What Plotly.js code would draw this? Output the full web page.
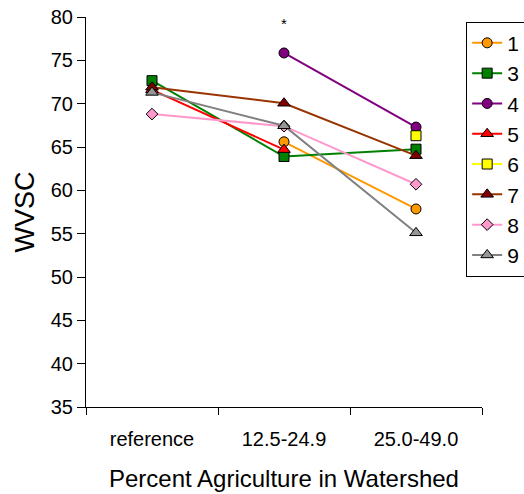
<!DOCTYPE html>
<html>
<head>
<meta charset="utf-8">
<script src="https://cdn.plot.ly/plotly-3.0.1.min.js"></script>
<style>html,body{margin:0;padding:0;background:#fff;}#chart{width:524px;height:494px;}</style>
</head>
<body>
<div id="chart"></div>
<script>
const categories = ['reference', '12.5-24.9', '25.0-49.0'];
const seriesNames = ['1', '3', '4', '5', '6', '7', '8', '9'];
const s1 = [null, 65.6, 57.85];
const s3 = [72.65, 63.9, 64.75];
const s4 = [null, 75.85, 67.3];
const s5 = [71.6, 64.7, null];
const s6 = [null, null, 66.3];
const s7 = [71.9, 70.05, 64.0];
const s8 = [68.8, 67.4, 60.7];
const s9 = [71.3, 67.45, 55.1];
const starNote = {cat: '12.5-24.9', y: 79.2, text: '*'};

const values = [s1, s3, s4, s5, s6, s7, s8, s9];
const lineColors = ['#FF9900', '#008000', '#800080', '#FF0000', '#FFFF00', '#993300', '#FF99CC', '#808080'];
const markerColors = ['#FF9900', '#008000', '#800080', '#FF0000', '#FFFF00', '#800000', '#FF99CC', '#969696'];
const symbols = ['circle', 'square', 'circle', 'triangle-up', 'square', 'triangle-up', 'diamond', 'triangle-up'];
const sizes = [10, 10, 10, 11, 10, 11, 9, 11];

const traces = seriesNames.map((n, i) => ({
  x: categories,
  y: values[i],
  name: n,
  type: 'scatter',
  mode: 'lines+markers',
  connectgaps: false,
  line: {color: lineColors[i], width: 2},
  marker: {symbol: symbols[i], size: sizes[i], color: markerColors[i], line: {color: '#000', width: 1}}
}));

const layout = {
  width: 524, height: 494,
  margin: {l: 86, r: 42, t: 17, b: 87, autoexpand: false},
  paper_bgcolor: '#fff', plot_bgcolor: '#fff',
  font: {family: 'Liberation Sans, Arial, sans-serif', color: '#000'},
  showlegend: true,
  legend: {
    x: 0.96, xanchor: 'left', y: 0.988, yanchor: 'top',
    bordercolor: '#000', borderwidth: 1, bgcolor: '#fff',
    font: {size: 21}, itemwidth: 30
  },
  xaxis: {
    type: 'category', range: [-0.5, 2.5],
    tickson: 'boundaries', ticks: 'outside', ticklen: 7, tickcolor: '#000',
    showline: true, linecolor: '#000', linewidth: 1,
    showgrid: false, zeroline: false,
    tickfont: {size: 20}, ticklabelstandoff: 14,
    title: {text: 'Percent Agriculture in Watershed', font: {size: 24}, standoff: 21}
  },
  yaxis: {
    range: [35, 80], dtick: 5, tick0: 35,
    ticks: 'outside', ticklen: 8, tickcolor: '#000',
    showline: true, linecolor: '#000', linewidth: 1,
    showgrid: false, zeroline: false,
    tickfont: {size: 20},
    title: {text: 'WVSC', font: {size: 27}, standoff: 8}
  },
  annotations: [{x: starNote.cat, y: starNote.y, text: starNote.text, showarrow: false, font: {size: 15}}]
};

Plotly.newPlot('chart', traces, layout, {displayModeBar: false, staticPlot: true});
</script>
</body>
</html>
